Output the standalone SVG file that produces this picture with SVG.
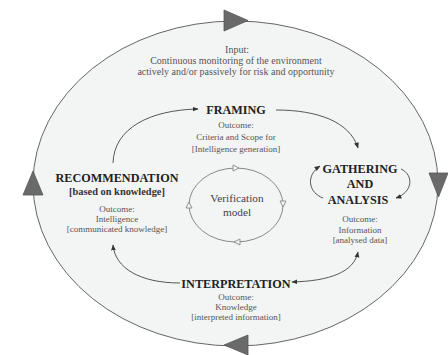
<svg xmlns="http://www.w3.org/2000/svg" width="448" height="355" viewBox="0 0 448 355">
<style>
.h{font-family:"Liberation Serif","Times New Roman",serif;font-weight:bold;font-size:12.2px;fill:#222;text-anchor:middle}
.sb{font-family:"Liberation Serif","Times New Roman",serif;font-weight:bold;font-size:10.4px;fill:#333;text-anchor:middle}
.t{font-family:"Liberation Serif","Times New Roman",serif;font-size:9px;fill:#555;text-anchor:middle}
.in{font-family:"Liberation Serif","Times New Roman",serif;font-size:10px;fill:#555;text-anchor:middle}
.v{font-family:"Liberation Serif","Times New Roman",serif;font-size:11.3px;fill:#444;text-anchor:middle}
.c{fill:none;stroke:#444;stroke-width:0.9}
.big{fill:#6a6a6a;stroke:#555;stroke-width:0.8}
.open{fill:#f4f5f5;stroke:#888;stroke-width:0.9}
</style>
<defs>
<marker id="ah" viewBox="0 0 10 10" refX="9" refY="5" markerWidth="6" markerHeight="6" markerUnits="userSpaceOnUse" orient="auto-start-reverse">
<path d="M0,1 L10,5 L0,9 Z" fill="#333"/>
</marker>
</defs>
<rect width="448" height="355" fill="#ffffff"/>
<g id="outer-cycle">
<ellipse cx="235.5" cy="183.5" rx="202.5" ry="162.5" fill="#f3f4f4" stroke="#666" stroke-width="1"/>
<polygon class="big" points="224,10 224,31 248,20.5"/>
<polygon class="big" points="429,173 448,173 438.5,197"/>
<polygon class="big" points="248,335 248,355 224,345"/>
<polygon class="big" points="23,195 43,195 33,171"/>
<text class="in" x="237" y="53">Input:</text>
<text class="in" x="236" y="64">Continuous monitoring of the environment</text>
<text class="in" x="236" y="74.5">actively and/or passively for risk and opportunity</text>
</g>
<g id="framing">
<text class="h" x="236" y="113.5">FRAMING</text>
<text class="t" x="236" y="128">Outcome:</text>
<text class="t" x="236" y="140">Criteria and Scope for</text>
<text class="t" x="236" y="152">[Intelligence generation]</text>
</g>
<g id="gathering">
<text class="h" x="360" y="172.5">GATHERING</text>
<text class="h" x="360" y="187.5">AND</text>
<text class="h" x="358" y="203.5">ANALYSIS</text>
<text class="t" x="360" y="222">Outcome:</text>
<text class="t" x="360" y="232.5">Information</text>
<text class="t" x="360" y="243">[analysed data]</text>
</g>
<g id="interpretation">
<text class="h" x="236" y="287.5">INTERPRETATION</text>
<text class="t" x="236" y="300">Outcome:</text>
<text class="t" x="236" y="310">Knowledge</text>
<text class="t" x="236" y="320">[interpreted information]</text>
</g>
<g id="recommendation">
<text class="h" x="117" y="181.5">RECOMMENDATION</text>
<text class="sb" x="117" y="194.5">[based on knowledge]</text>
<text class="t" x="117" y="212">Outcome:</text>
<text class="t" x="117" y="222">Intelligence</text>
<text class="t" x="117" y="232">[communicated knowledge]</text>
</g>
<g id="verification">
<ellipse cx="236" cy="205" rx="47" ry="37" fill="none" stroke="#888" stroke-width="1"/>
<polygon class="open" points="233,165 233,171 239,168"/>
<polygon class="open" points="280,201 286,201 283,207"/>
<polygon class="open" points="240,239 240,245 234,242"/>
<polygon class="open" points="186,208 192,208 189,202"/>
<text class="v" x="237" y="202">Verification</text>
<text class="v" x="237" y="215.5">model</text>
</g>
<g id="connectors">
<path class="c" d="M113,163 C114,128 150,110 198,109" marker-end="url(#ah)"/>
<path class="c" d="M276,110 C318,110 350,122 358,148" marker-end="url(#ah)"/>
<path class="c" d="M323,198 C309,193 305,176 320,166" marker-end="url(#ah)"/>
<path class="c" d="M401,169 C414,175 413,192 396,198" marker-end="url(#ah)"/>
<path class="c" d="M358,252 C354,272 330,281 292,282" marker-start="url(#ah)" marker-end="url(#ah)"/>
<path class="c" d="M180,283 C140,283 115,268 113,245" marker-end="url(#ah)"/>
</g>
</svg>
